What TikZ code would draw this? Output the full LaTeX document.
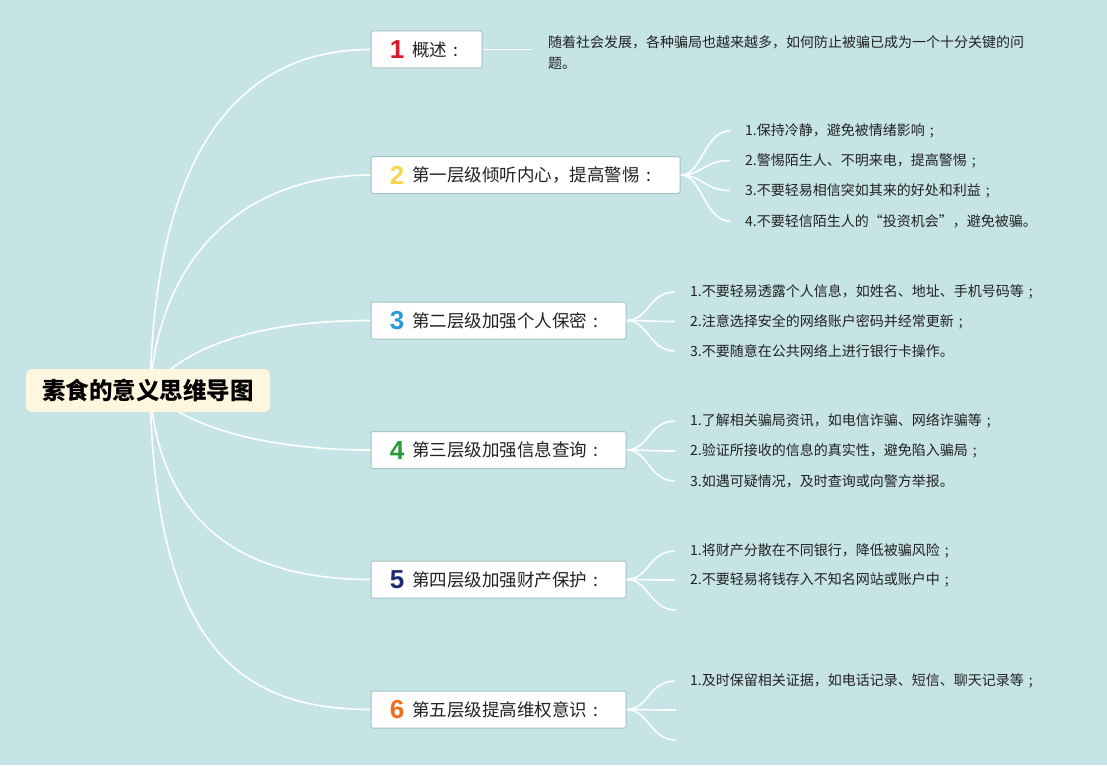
\documentclass[tikz,border=0pt]{standalone}
\usepackage{fontspec}
\setmainfont{Liberation Serif}
\newfontfamily\cjk{Noto Sans CJK SC}
\newfontfamily\numfont{Liberation Sans}
\usetikzlibrary{calc}
\definecolor{bgc}{HTML}{C6E3E5}
\definecolor{rootfill}{HTML}{FFF6E0}
\definecolor{boxline}{HTML}{A3C4C1}
\definecolor{txt}{HTML}{222222}
\definecolor{nA}{HTML}{D7192B}
\definecolor{nB}{HTML}{F3D750}
\definecolor{nC}{HTML}{2B9AD8}
\definecolor{nD}{HTML}{2A9A36}
\definecolor{nE}{HTML}{1E2A72}
\definecolor{nF}{HTML}{F36C1C}
\newcommand\fcolon{\makebox[1em][c]{:}}
\newcommand\fsemi{\makebox[1em][c]{;}}
\pgfdeclarelayer{bgfill}
\pgfdeclarelayer{links}
\pgfsetlayers{bgfill,links,main}
\begin{document}
\begin{tikzpicture}[x=1pt,y=-1pt,
  root/.style={fill=rootfill, rounded corners=6pt, minimum width=244pt, minimum height=43pt, inner sep=0pt, text=black, font=\cjk\bfseries\fontsize{23.5}{26}\selectfont},
  branch/.style={draw=boxline, line width=1pt, fill=white, rounded corners=1.5pt, minimum height=37pt, inner sep=0pt},
  num/.style={inner sep=0pt, font=\numfont\bfseries\fontsize{26}{27}\selectfont},
  btext/.style={inner sep=0pt, anchor=west, text=txt, font=\cjk\fontsize{17.5}{20}\selectfont},
  leaf/.style={inner sep=0pt, anchor=west, text=txt, font=\cjk\fontsize{14}{17}\selectfont},
  link/.style={draw=white, line width=1.6pt}
]
\begin{pgfonlayer}{bgfill}
\fill[bgc] (0,0) rectangle (1107,765);
\end{pgfonlayer}
\useasboundingbox (0,0) rectangle (1107,765);

% root
\node[root] (root) at (148,390.5) {素食的意义思维导图};
\coordinate (rc) at (150,390);

% branches
\node[branch, minimum width=111pt] (b1) at (426.5,49.5) {};
\node[num, text=nA] (n1) at (397,50) {1};
\node[btext] (t1) at (412,49.5) {概述\fcolon};

\node[branch, minimum width=309pt] (b2) at (525.5,175) {};
\node[num, text=nB] (n2) at (397,175.5) {2};
\node[btext] (t2) at (412,175) {第一层级倾听内心，提高警惕\fcolon};

\node[branch, minimum width=255pt] (b3) at (498.5,320.5) {};
\node[num, text=nC] (n3) at (397,321) {3};
\node[btext] (t3) at (412,320.5) {第二层级加强个人保密\fcolon};

\node[branch, minimum width=255pt] (b4) at (498.5,450) {};
\node[num, text=nD] (n4) at (397,450.5) {4};
\node[btext] (t4) at (412,450) {第三层级加强信息查询\fcolon};

\node[branch, minimum width=255pt] (b5) at (498.5,579.5) {};
\node[num, text=nE] (n5) at (397,580) {5};
\node[btext] (t5) at (412,579.5) {第四层级加强财产保护\fcolon};

\node[branch, minimum width=255pt] (b6) at (498.5,709.5) {};
\node[num, text=nF] (n6) at (397,710) {6};
\node[btext] (t6) at (412,709.5) {第五层级提高维权意识\fcolon};

% branch 1 description
\node[leaf, align=left, font=\cjk\fontsize{14}{21}\selectfont] (d1) at (548,52.5) {随着社会发展，各种骗局也越来越多，如何防止被骗已成为一个十分关键的问\\题。};
\coordinate (c1) at (532,49.5);

% leaves of branch 2
\node[leaf] (l21) at (745,131) {1.保持冷静，避免被情绪影响\fsemi};
\node[leaf] (l22) at (745,160.5) {2.警惕陌生人、不明来电，提高警惕\fsemi};
\node[leaf] (l23) at (745,190.5) {3.不要轻易相信突如其来的好处和利益\fsemi};
\node[leaf] (l24) at (745,221) {4.不要轻信陌生人的“投资机会”，避免被骗。};

% leaves of branch 3
\node[leaf] (l31) at (690,292) {1.不要轻易透露个人信息，如姓名、地址、手机号码等\fsemi};
\node[leaf] (l32) at (690,321.5) {2.注意选择安全的网络账户密码并经常更新\fsemi};
\node[leaf] (l33) at (690,351) {3.不要随意在公共网络上进行银行卡操作。};

% leaves of branch 4
\node[leaf] (l41) at (690,421) {1.了解相关骗局资讯，如电信诈骗、网络诈骗等\fsemi};
\node[leaf] (l42) at (690,451) {2.验证所接收的信息的真实性，避免陷入骗局\fsemi};
\node[leaf] (l43) at (690,481) {3.如遇可疑情况，及时查询或向警方举报。};

% leaves of branch 5
\node[leaf] (l51) at (690,551) {1.将财产分散在不同银行，降低被骗风险\fsemi};
\node[leaf] (l52) at (690,580) {2.不要轻易将钱存入不知名网站或账户中\fsemi};
\coordinate (e53) at (676,610);

% leaves of branch 6
\node[leaf] (l61) at (690,681) {1.及时保留相关证据，如电话记录、短信、聊天记录等\fsemi};
\coordinate (e62) at (676,710);
\coordinate (e63) at (676,740);

\begin{pgfonlayer}{links}
% root to branches
\draw[link] (rc) .. controls (155,150) and (240,49.5) .. (b1.west);
\draw[link] (rc) .. controls (160,250) and (250,175) .. (b2.west);
\draw[link] (rc) .. controls (190,338) and (280,320.5) .. (b3.west);
\draw[link] (rc) .. controls (190,432) and (280,450) .. (b4.west);
\draw[link] (rc) .. controls (160,530) and (250,579.5) .. (b5.west);
\draw[link] (rc) .. controls (155,640) and (235,709.5) .. (b6.west);
% branch 1
\draw[link] (b1.east) -- (c1);
% fans
\foreach \b/\l in {b2/l21,b2/l22,b2/l23,b2/l24,b3/l31,b3/l32,b3/l33,b4/l41,b4/l42,b4/l43,b5/l51,b5/l52,b6/l61}{
  \draw[link] (\b.east) .. controls +(22,0) and +(-26,0) .. ([xshift=-15pt]\l.west);
}
\foreach \b/\e in {b5/e53,b6/e62,b6/e63}{
  \draw[link] (\b.east) .. controls +(22,0) and +(-26,0) .. (\e);
}
\end{pgfonlayer}
\end{tikzpicture}
\end{document}
